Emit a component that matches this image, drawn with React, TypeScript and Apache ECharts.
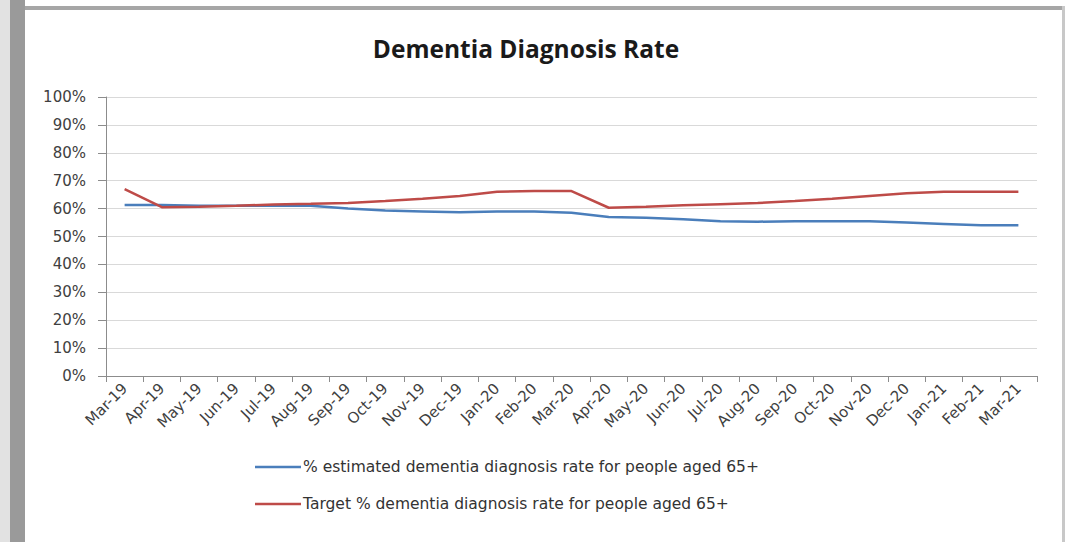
import React, { useEffect, useRef } from "react";
import * as echarts from "echarts";

const months = [
  "Mar-19", "Apr-19", "May-19", "Jun-19", "Jul-19", "Aug-19", "Sep-19", "Oct-19", "Nov-19",
  "Dec-19", "Jan-20", "Feb-20", "Mar-20", "Apr-20", "May-20", "Jun-20", "Jul-20", "Aug-20",
  "Sep-20", "Oct-20", "Nov-20", "Dec-20", "Jan-21", "Feb-21", "Mar-21",
];
const estimated = [
  61.3, 61.3, 61.0, 61.0, 61.0, 61.0, 60.0, 59.3, 59.0, 58.7, 59.0, 59.0, 58.5,
  57.0, 56.7, 56.2, 55.5, 55.3, 55.5, 55.5, 55.5, 55.0, 54.5, 54.0, 54.0,
];
const target = [
  67.0, 60.5, 60.7, 61.0, 61.5, 61.7, 62.0, 62.7, 63.5, 64.5, 66.0, 66.3, 66.3,
  60.3, 60.7, 61.2, 61.6, 62.0, 62.7, 63.5, 64.5, 65.5, 66.0, 66.0, 66.0,
];
const yTicks = [0, 10, 20, 30, 40, 50, 60, 70, 80, 90, 100];
const seriesNames = [
  "% estimated dementia diagnosis rate for people aged 65+",
  "Target % dementia diagnosis rate for people aged 65+",
];

export default function App() {
  const ref = useRef<HTMLDivElement>(null);
  useEffect(() => {
    if (!ref.current) return;
    const chart = echarts.init(ref.current, undefined, { renderer: "svg" });
    const titleFont = "'Open Sans', sans-serif";
    const labelFont = "'DejaVu Sans', sans-serif";
    chart.setOption({
      animation: false,
      backgroundColor: "#ffffff",
      textStyle: { fontFamily: titleFont },
      title: {
        text: "Dementia Diagnosis Rate",
        left: 521,
        textAlign: "center",
        top: 31,
        textStyle: { fontFamily: titleFont, fontSize: 24.5, fontWeight: "bold", color: "#1a1a1a" },
      },
      grid: { left: 106, right: 33, top: 97, bottom: 166, containLabel: false },
      xAxis: {
        type: "category",
        data: months,
        boundaryGap: true,
        axisLine: { lineStyle: { color: "#8c8c8c", width: 1 } },
        axisTick: { show: true, length: 6, lineStyle: { color: "#8c8c8c" } },
        axisLabel: { rotate: 45, fontSize: 15, color: "#404040", margin: 10, interval: 0, fontFamily: labelFont },
      },
      yAxis: {
        type: "value",
        min: yTicks[0],
        max: yTicks[yTicks.length - 1],
        interval: 10,
        axisLine: { show: true, lineStyle: { color: "#8c8c8c", width: 1 } },
        axisTick: { show: true, inside: false, length: 8, lineStyle: { color: "#8c8c8c" } },
        axisLabel: { formatter: "{value}%", fontSize: 15, color: "#404040", margin: 20, fontFamily: labelFont },
        splitLine: { show: true, lineStyle: { color: "#d9d9d9", width: 1 } },
      },
      legend: {
        orient: "vertical",
        left: 250,
        top: 454,
        itemWidth: 46,
        itemHeight: 14,
        itemGap: 21,
        textStyle: { fontSize: 15.5, color: "#333333", fontFamily: labelFont, padding: [0, 0, 0, -3] },
        data: seriesNames.map((n) => ({ name: n, icon: "path://M0,6 L40,6 L40,8.2 L0,8.2 Z" })),
      },
      series: [
        {
          name: seriesNames[0],
          type: "line",
          data: estimated,
          symbol: "none",
          lineStyle: { color: "#4a7ebb", width: 2.5 },
          itemStyle: { color: "#4a7ebb" },
        },
        {
          name: seriesNames[1],
          type: "line",
          data: target,
          symbol: "none",
          lineStyle: { color: "#be4b48", width: 2.5 },
          itemStyle: { color: "#be4b48" },
        },
      ],
      graphic: [
        { type: "rect", shape: { x: 0, y: 0, width: 10, height: 542 }, style: { fill: "#e2e2e2" }, silent: true },
        { type: "rect", shape: { x: 10, y: 0, width: 15, height: 542 }, style: { fill: "#9a9a9a" }, silent: true },
        { type: "rect", shape: { x: 25, y: 6, width: 1040, height: 4 }, style: { fill: "#a6a6a6" }, silent: true },
        { type: "rect", shape: { x: 1062, y: 6, width: 3, height: 536 }, style: { fill: "#c8c8c8" }, silent: true },
      ],
    });
    return () => chart.dispose();
  }, []);
  return (
    <div
      ref={ref}
      style={{ position: "fixed", left: 0, top: 0, width: 1070, height: 542 }}
    />
  );
}
